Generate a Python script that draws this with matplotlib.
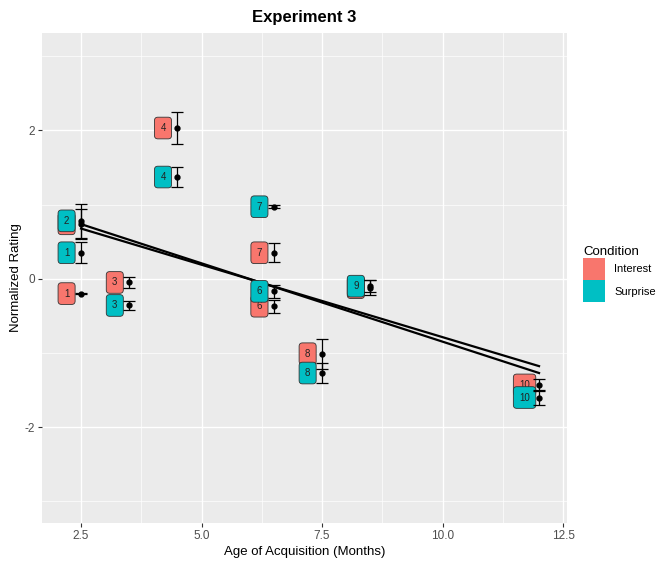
import numpy as np
import matplotlib
matplotlib.use("Agg")
import matplotlib.pyplot as plt
from matplotlib.patches import Patch

plt.rcParams['font.family'] = ['Liberation Sans', 'DejaVu Sans']

# ---- data ----
words = [1, 2, 3, 4, 6, 7, 8, 9, 10]
aoa = [2.5, 2.5, 3.5, 4.5, 6.5, 6.5, 7.5, 8.5, 12.0]
interest_mean = [-0.20, 0.74, -0.05, 2.03, -0.37, 0.35, -1.01, -0.12, -1.43]
interest_err = [0.01, 0.20, 0.07, 0.21, 0.09, 0.13, 0.20, 0.10, 0.08]
surprise_mean = [0.35, 0.78, -0.36, 1.37, -0.17, 0.97, -1.27, -0.10, -1.60]
surprise_err = [0.14, 0.23, 0.06, 0.13, 0.09, 0.02, 0.14, 0.08, 0.10]
conditions = ["Interest", "Surprise"]
colors = ["#F8766D", "#00BFC4"]
label_nudge = -0.3

x_ticks = [2.5, 5.0, 7.5, 10.0, 12.5]
y_ticks = [-2, 0, 2]

fig = plt.figure(figsize=(6.6, 5.66), dpi=100)
ax = fig.add_axes([42/660, 1-523/566, (567-42)/660, (523-33)/566])
ax.set_facecolor("#EBEBEB")
for s in ax.spines.values():
    s.set_visible(False)

ax.set_xlim(1.69, 12.58)
ax.set_ylim(-3.29, 3.31)
ax.set_xticks(x_ticks)
ax.set_xticklabels(["2.5", "5.0", "7.5", "10.0", "12.5"])
ax.set_yticks(y_ticks)
ax.set_yticklabels(["-2", "0", "2"])
ax.set_xticks([3.75, 6.25, 8.75, 11.25], minor=True)
ax.set_yticks([-3, -1, 1, 3], minor=True)
ax.grid(which='major', color='white', lw=1.0)
ax.grid(which='minor', color='white', lw=0.5)
ax.set_axisbelow(True)
ax.tick_params(which='major', length=3, width=0.8, color='#333333',
               labelsize=8.5, labelcolor='#4D4D4D', pad=2)
ax.tick_params(which='minor', length=0)

x = np.array(aoa)
series = [(interest_mean, interest_err), (surprise_mean, surprise_err)]

# regression lines
for means, _ in series:
    m, b = np.polyfit(x, np.array(means), 1)
    xs = np.array([x.min(), x.max()])
    ax.plot(xs, m*xs + b, color='black', lw=1.6, zorder=3)

# labels and points
for (means, errs), col in zip(series, colors):
    for w, xi, yi in zip(words, aoa, means):
        ax.text(xi + label_nudge, yi, str(w), fontsize=7, color='#222222',
                ha='center', va='center', zorder=5,
                bbox=dict(boxstyle='round,pad=0.6,rounding_size=0.35',
                          fc=col, ec='#333333', lw=0.6))
    ax.errorbar(aoa, means, yerr=errs, fmt='o', color='black', ms=3.5,
                capsize=4, elinewidth=0.9, capthick=0.9, zorder=6)

ax.set_title("Experiment 3", fontsize=12, fontweight='bold', pad=8)
ax.set_xlabel("Age of Acquisition (Months)", fontsize=9.5, labelpad=3)
ax.set_ylabel("Normalized Rating", fontsize=9.5, labelpad=2)

handles = [Patch(facecolor=c, edgecolor='none') for c in colors]
leg = fig.legend(handles, conditions, loc='upper left',
                 bbox_to_anchor=(583/660, 1-246/566), frameon=False,
                 title="Condition", title_fontsize=9.5, fontsize=8,
                 handlelength=2.0, handleheight=2.7, labelspacing=0,
                 handletextpad=0.8, borderpad=0, borderaxespad=0)
leg._legend_box.align = "left"

fig.savefig("out.png", dpi=100)
